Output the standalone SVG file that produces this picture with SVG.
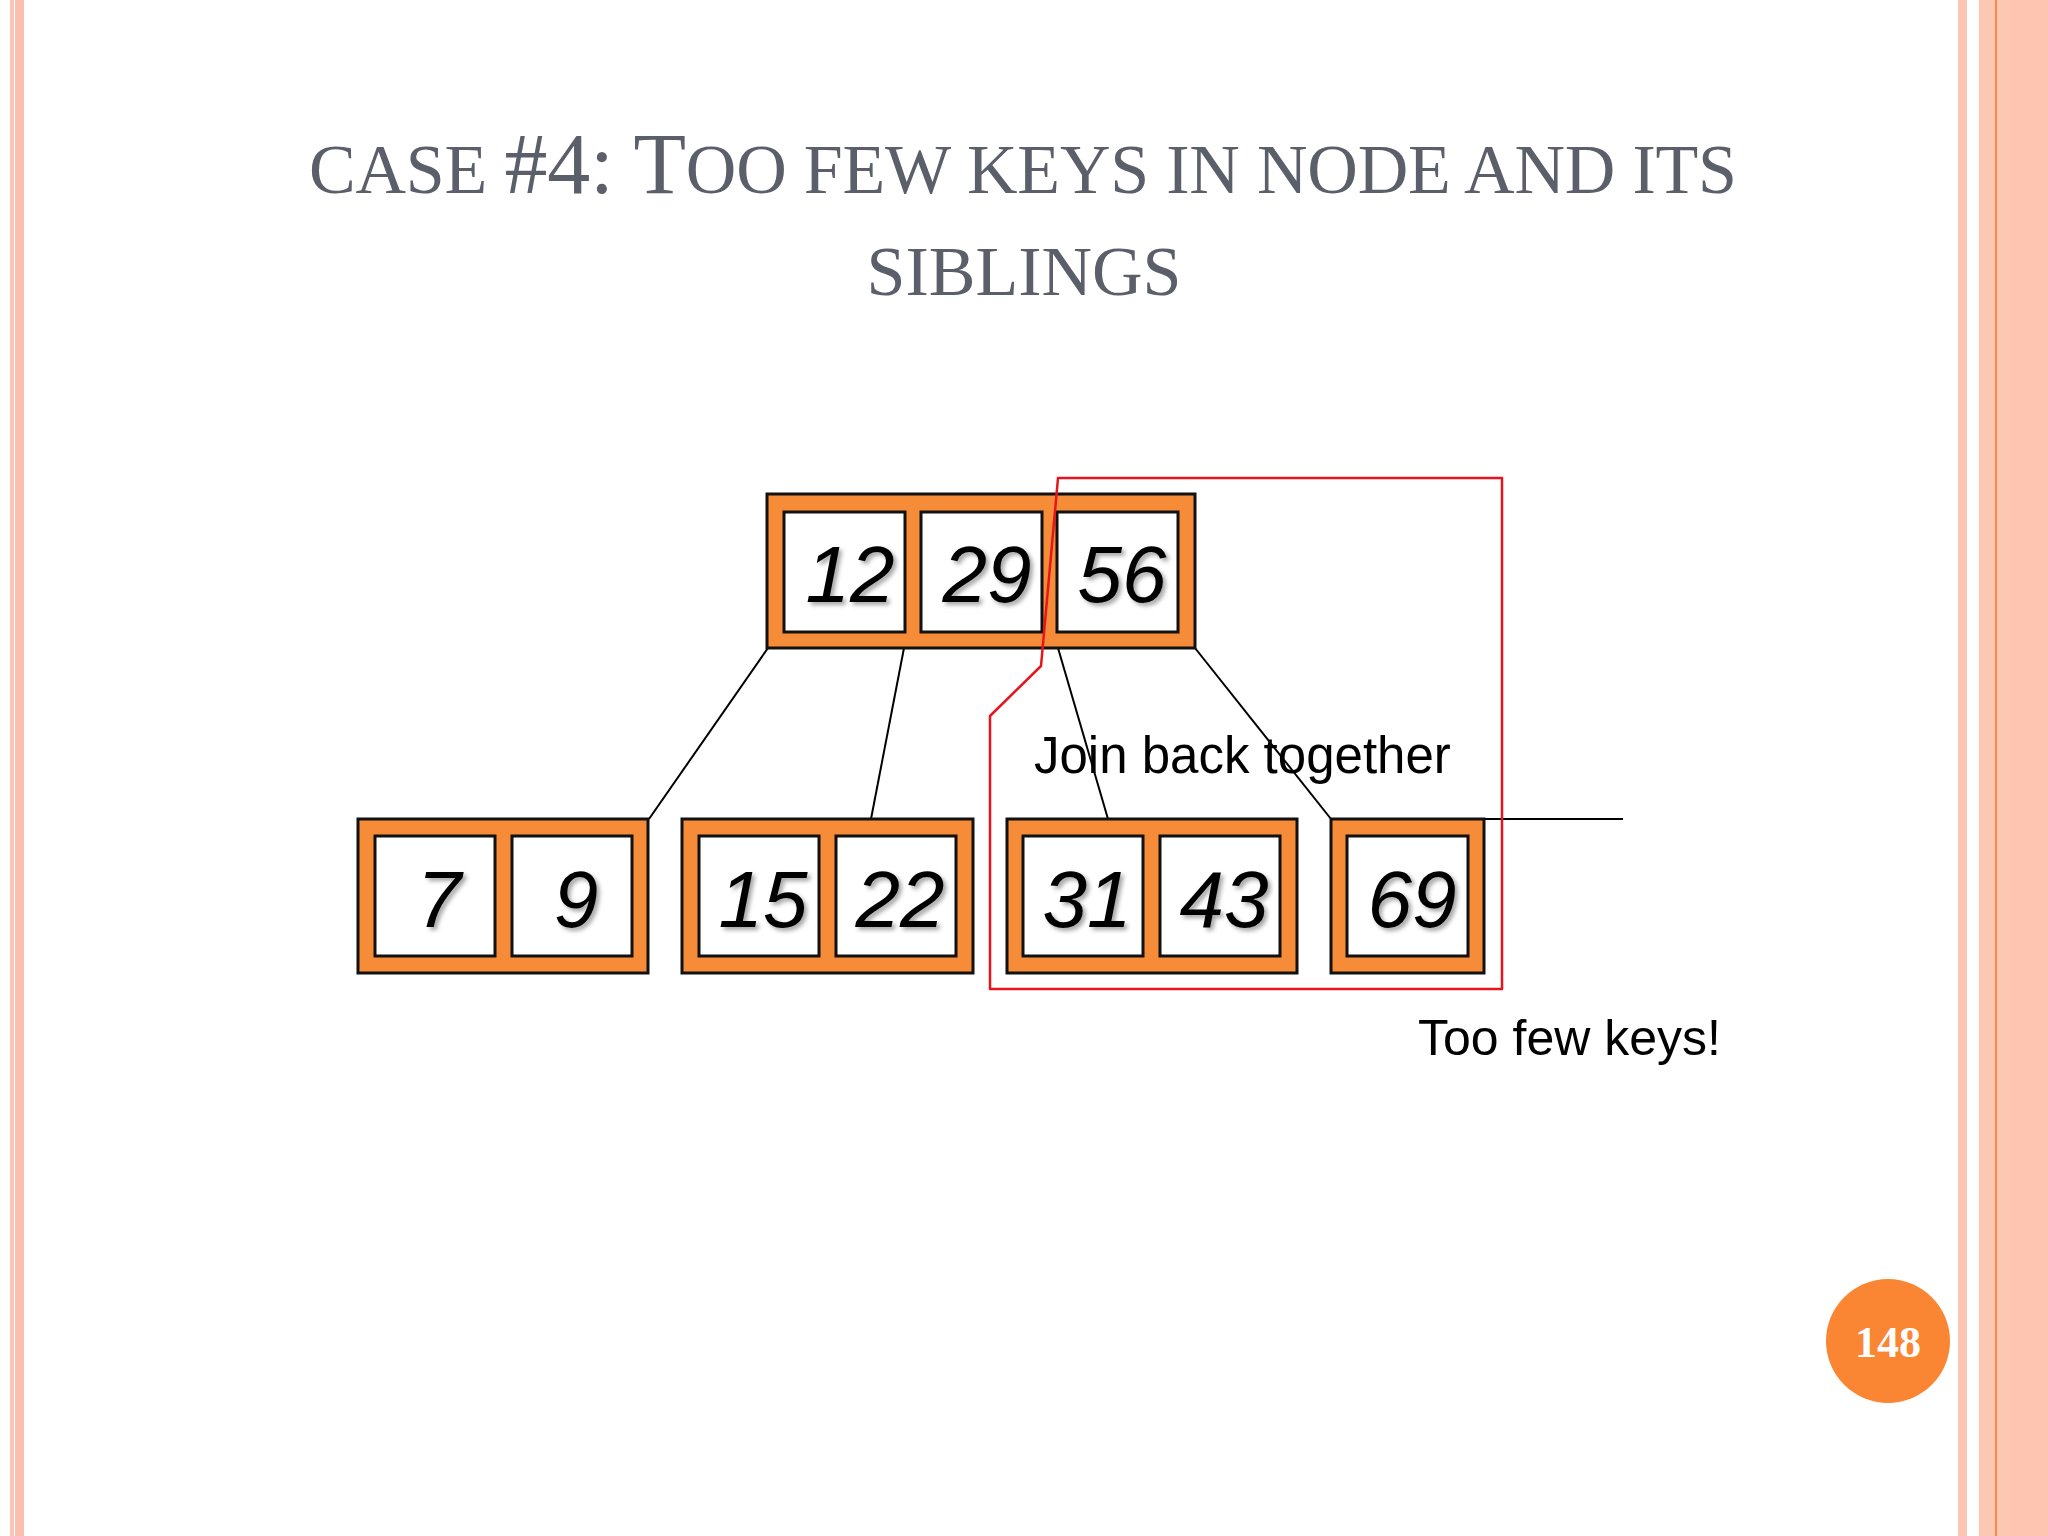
<svg xmlns="http://www.w3.org/2000/svg" width="2048" height="1536" viewBox="0 0 2048 1536">
<style>
.title{font-family:"Liberation Serif","Times New Roman",serif;fill:#5a5f6a}
.outer{fill:#F68B38;stroke:#111;stroke-width:3}
.cell{fill:#fff;stroke:#111;stroke-width:3}
.num{font-family:"Liberation Sans",Arial,sans-serif;font-style:italic;font-size:80px;fill:#000;text-anchor:middle;filter:url(#sh)}
.lbl{font-family:"Liberation Sans",Arial,sans-serif;fill:#000}
.conn line{stroke:#000;stroke-width:2}
</style>
<defs>
<filter id="sh" x="-20%" y="-20%" width="140%" height="140%">
<feDropShadow dx="3" dy="3" stdDeviation="2" flood-color="#000" flood-opacity="0.35"/>
</filter>
</defs>
<rect width="2048" height="1536" fill="#fff"/>
<g id="border">
<rect x="10" y="0" width="4" height="1536" fill="#F8C4B8"/>
<rect x="15" y="0" width="9" height="1536" fill="#FBBFB0"/>
<rect x="1958" y="0" width="9" height="1536" fill="#FCC6B4"/>
<rect x="1979" y="0" width="69" height="1536" fill="#FDC8B3"/>
<rect x="2012" y="0" width="36" height="1536" fill="#FEC6B0"/>
<rect x="1995" y="0" width="2" height="1536" fill="#F68A4A"/>
</g>
<g id="title" class="title">
<text x="309" y="193" textLength="1428" lengthAdjust="spacing"><tspan font-size="70">CASE </tspan><tspan font-size="86">#4: T</tspan><tspan font-size="70">OO FEW KEYS IN NODE AND ITS</tspan></text>
<text x="1024" y="295" font-size="70" text-anchor="middle">SIBLINGS</text>
</g>
<g id="connectors" class="conn">
<line x1="768" y1="648" x2="649" y2="819"/>
<line x1="904" y1="648" x2="871" y2="819"/>
<line x1="1058" y1="648" x2="1108" y2="819"/>
<line x1="1195" y1="648" x2="1331" y2="819"/>
<line x1="1484" y1="819" x2="1623" y2="819" stroke-width="1.5"/>
</g>
<g id="node-root">
<rect class="outer" x="767" y="494" width="428" height="154"/>
<rect class="cell" x="784" y="512" width="121" height="120"/>
<rect class="cell" x="921" y="512" width="121" height="120"/>
<rect class="cell" x="1057" y="512" width="121" height="120"/>
<text class="num" x="850" y="602">12</text>
<text class="num" x="987" y="602">29</text>
<text class="num" x="1122" y="602">56</text>
</g>
<g id="node-7-9">
<rect class="outer" x="358" y="819" width="290" height="154"/>
<rect class="cell" x="375" y="836" width="120" height="120"/>
<rect class="cell" x="512" y="836" width="120" height="120"/>
<text class="num" x="439" y="927">7</text>
<text class="num" x="576" y="927">9</text>
</g>
<g id="node-15-22">
<rect class="outer" x="682" y="819" width="291" height="154"/>
<rect class="cell" x="699" y="836" width="120" height="120"/>
<rect class="cell" x="836" y="836" width="120" height="120"/>
<text class="num" x="763" y="927">15</text>
<text class="num" x="900" y="927">22</text>
</g>
<g id="node-31-43">
<rect class="outer" x="1007" y="819" width="290" height="154"/>
<rect class="cell" x="1023" y="836" width="120" height="120"/>
<rect class="cell" x="1160" y="836" width="120" height="120"/>
<text class="num" x="1087" y="927">31</text>
<text class="num" x="1224" y="927">43</text>
</g>
<g id="node-69">
<rect class="outer" x="1331" y="819" width="153" height="154"/>
<rect class="cell" x="1347" y="836" width="121" height="120"/>
<text class="num" x="1412" y="927">69</text>
</g>
<g id="highlight">
<path d="M1058 478 L1502 478 L1502 989 L990 989 L990 716 L1041 666 Z" fill="none" stroke="#E8141C" stroke-width="2.5" stroke-linejoin="round"/>
</g>
<g id="labels">
<text class="lbl" x="1034" y="773" font-size="51">Join back together</text>
<text class="lbl" x="1418" y="1055" font-size="50">Too few keys!</text>
</g>
<g id="page-number">
<circle cx="1888" cy="1341" r="62" fill="#FA8634"/>
<text x="1888" y="1357" font-family="'Liberation Serif','Times New Roman',serif" font-weight="bold" font-size="44" fill="#fff" text-anchor="middle">148</text>
</g>
</svg>
